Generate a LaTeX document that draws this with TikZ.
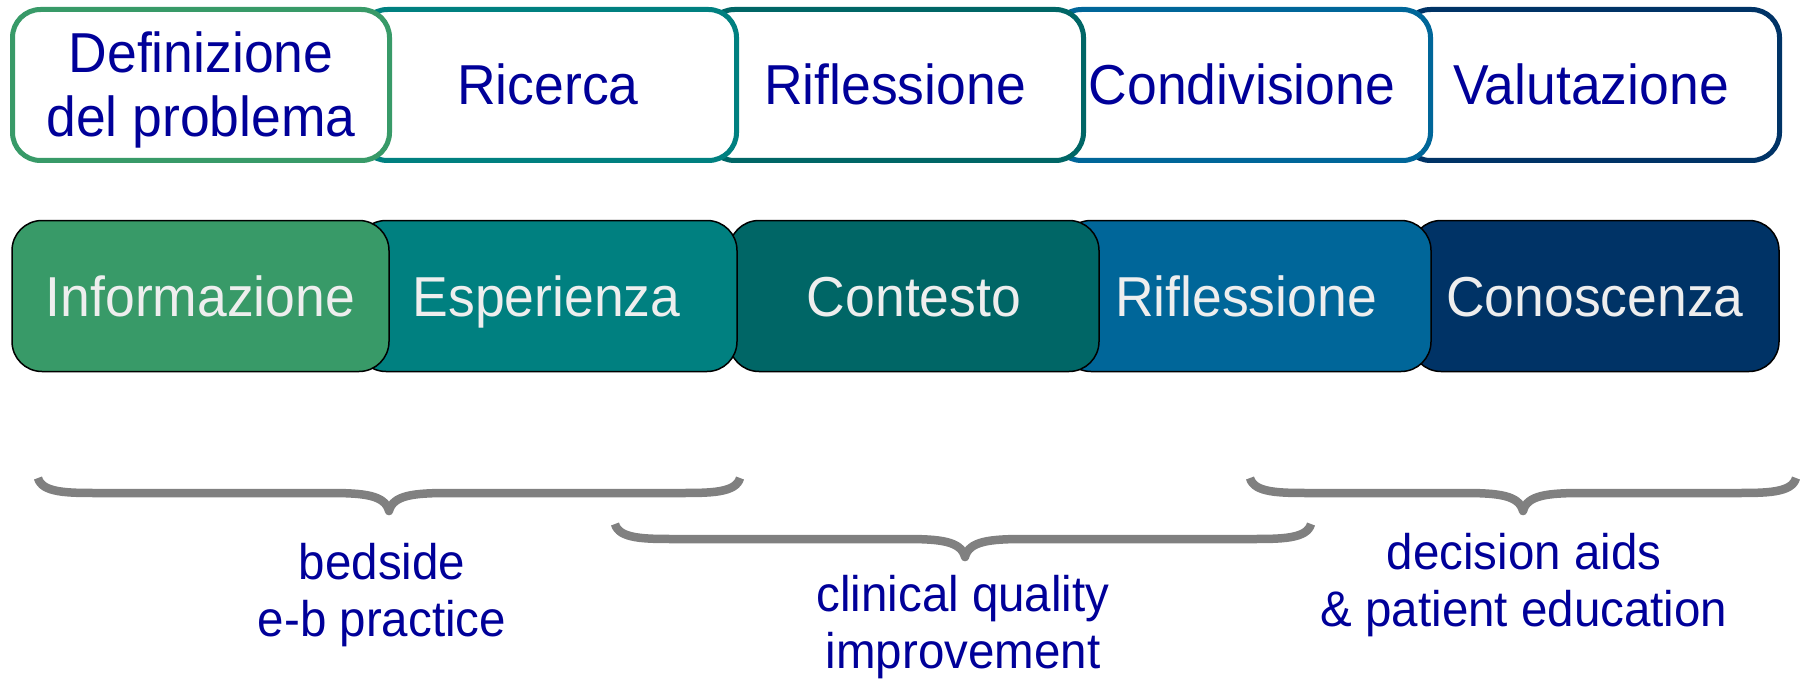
\documentclass[tikz,border=0pt]{standalone}
\usepackage{fontspec}
\setmainfont{Liberation Sans}[FakeStretch=0.95]
\definecolor{cgreen}{RGB}{56,154,104}
\definecolor{cteal}{RGB}{0,128,128}
\definecolor{cdteal}{RGB}{0,102,102}
\definecolor{cblue}{RGB}{0,102,153}
\definecolor{cnavy}{RGB}{0,51,102}
\definecolor{txtblue}{RGB}{0,0,153}
\definecolor{txtlight}{RGB}{238,238,238}
\definecolor{bracegray}{RGB}{128,128,128}
\newcommand\twolines[2]{\vbox{\halign{\hfil##\hfil\cr #1\cr #2\cr}}}
\newcommand\drawbrace[6]{%
  \draw[bracestyle] (#1,#3) .. controls (#1+4,#4) and (#1+30,#4) .. (#1+60,#4)
    -- (#5-60,#4) .. controls (#5-25,#4) and (#5-4,#4+2) .. (#5,#6)
    .. controls (#5+4,#4+2) and (#5+25,#4) .. (#5+60,#4)
    -- (#2-60,#4) .. controls (#2-30,#4) and (#2-4,#4) .. (#2,#3);}
\begin{document}
\begin{tikzpicture}[x=1pt,y=-1pt,
  topbox/.style={draw=#1, line width=5pt, fill=white, rounded corners=28pt,
    minimum width=377pt, minimum height=151pt, inner sep=0pt, text=txtblue,
    font=\fontsize{56.3}{64}\selectfont, text height=40pt, text depth=0pt},
  botbox/.style={draw=black, line width=1.5pt, fill=#1, rounded corners=30pt,
    minimum height=151pt, inner sep=0pt, text=txtlight,
    font=\fontsize{56.3}{64}\selectfont, text height=40pt, text depth=0pt},
  lab/.style={text=txtblue, inner sep=0pt, font=\fontsize{50}{57}\selectfont, anchor=base},
  bracestyle/.style={draw=bracegray, line width=8.5pt, line join=round}]
\useasboundingbox (0,0) rectangle (1806,679);
% top row (drawn right to left so left boxes overlap)
\node[topbox=cnavy] (t5) at (1591,85) {Valutazione};
\node[topbox=cblue] (t4) at (1242,85) {Condivisione};
\node[topbox=cdteal] (t3) at (895,85) {Riflessione};
\node[topbox=cteal] (t2) at (548,85) {Ricerca};
\node[topbox=cgreen, text height=104pt] (t1) at (201,85) {\twolines{Definizione}{del problema}};
% bottom row
\node[botbox=cnavy, minimum width=368pt] (b5) at (1595,296) {Conoscenza};
\node[botbox=cblue, minimum width=370pt] (b4) at (1246,296) {Riflessione};
\node[botbox=cdteal, minimum width=370pt] (b3) at (914,296) {Contesto};
\node[botbox=cteal, minimum width=381pt] (b2) at (546.5,296) {Esperienza};
\node[botbox=cgreen, minimum width=377pt] (b1) at (200.5,296) {Informazione};
% braces
\drawbrace{38}{740}{478}{493}{389}{511}
\drawbrace{615}{1311}{524}{539}{965}{557}
\drawbrace{1250}{1796}{478}{493}{1523}{511}
% labels
\node[lab] (l1) at (382,636) {\twolines{bedside}{e-b practice}};
\node[lab] (l2) at (963,668) {\twolines{clinical quality}{improvement}};
\node[lab] (l3) at (1524,626) {\twolines{decision aids}{\& patient education}};
\end{tikzpicture}
\end{document}
